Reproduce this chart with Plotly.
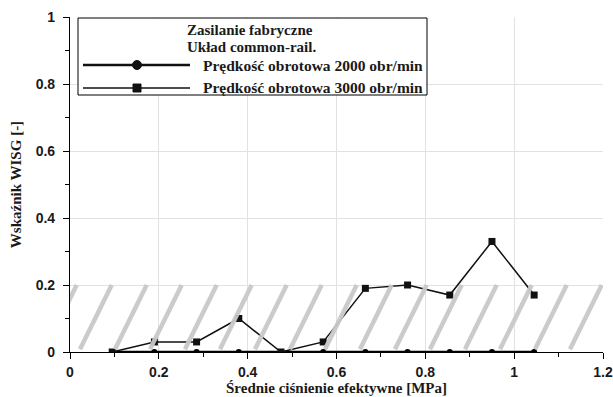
import plotly.graph_objects as go

# Data
pressure = [0.095, 0.19, 0.285, 0.38, 0.475, 0.57, 0.665, 0.76, 0.855, 0.95, 1.045]
wisg_2000 = [0, 0, 0, 0, 0, 0, 0, 0, 0, 0, 0]
wisg_3000 = [0, 0.03, 0.03, 0.10, 0, 0.03, 0.19, 0.20, 0.17, 0.33, 0.17]
band_low, band_high = 0.0, 0.2
x_ticks = [0, 0.2, 0.4, 0.6, 0.8, 1, 1.2]
x_labels = ["0", "0.2", "0.4", "0.6", "0.8", "1", "1.2"]
y_ticks = [0, 0.2, 0.4, 0.6, 0.8, 1]
y_labels = ["0", "0.2", "0.4", "0.6", "0.8", "1"]
legend_title = ["Zasilanie fabryczne", "Układ common-rail."]
series_names = ["Prędkość obrotowa 2000 obr/min", "Prędkość obrotowa 3000 obr/min"]

W, H = 613, 397
ML, MR, MT, MB = 70, 10, 17, 45
PW, PH = W - ML - MR, H - MT - MB


def px(xp):
    return (xp - ML) / PW


def py(yp):
    return (H - MB - yp) / PH


fig = go.Figure()

fig.add_trace(go.Scatter(
    x=pressure, y=wisg_2000, mode="lines+markers", name=series_names[0],
    line=dict(color="black", width=2.5),
    marker=dict(symbol="circle", size=6, color="black"), showlegend=False,
))
fig.add_trace(go.Scatter(
    x=pressure, y=wisg_3000, mode="lines+markers", name=series_names[1],
    line=dict(color="#111", width=1.5),
    marker=dict(symbol="square", size=7, color="#111"), showlegend=False,
))

# Hatched band (diagonal stripes) between band_low and band_high
period = 0.0788
slant = 0.0743
phase = 0.0225
hx, hy = [], []
y0 = band_low + 0.008
k = -3
while phase + k * period < 1.3:
    xb = phase + k * period
    hx += [xb, xb + slant * (band_high - y0) / (band_high - band_low), None]
    hy += [y0, band_high, None]
    k += 1
fig.add_trace(go.Scatter(
    x=hx, y=hy, mode="lines", showlegend=False, hoverinfo="skip",
    line=dict(color="rgba(200,200,200,0.95)", width=4.5),
))

# Custom legend box
shapes = [dict(type="rect", xref="paper", yref="paper",
               x0=px(78), x1=px(427), y0=py(95), y1=py(18),
               line=dict(color="black", width=1), fillcolor="white", layer="above")]
annotations = []
legend_font = dict(family="Liberation Serif", size=15.5, color="#1a1a1a", weight="bold")
title_font = dict(family="Liberation Serif", size=15, color="#1a1a1a", weight="bold")
for i, t in enumerate(legend_title):
    annotations.append(dict(text=t, xref="paper", yref="paper", x=px(185), y=py(30 + 17 * i),
                            xanchor="left", yanchor="middle", showarrow=False, font=title_font))
item_y = [65, 88]
line_w = [2.5, 1.5]
for i, name in enumerate(series_names):
    yy = py(item_y[i])
    shapes.append(dict(type="line", xref="paper", yref="paper", x0=px(83), x1=px(190), y0=yy, y1=yy,
                       line=dict(color="#111", width=line_w[i]), layer="above"))
    annotations.append(dict(text=name, xref="paper", yref="paper", x=px(201), y=yy,
                            xanchor="left", yanchor="middle", showarrow=False, font=legend_font))
shapes.append(dict(type="circle", xref="paper", yref="paper", xsizemode="pixel", ysizemode="pixel",
                   xanchor=px(137), yanchor=py(item_y[0]), x0=-4.5, x1=4.5, y0=-4.5, y1=4.5,
                   fillcolor="#111", line=dict(color="#111", width=1), layer="above"))
shapes.append(dict(type="rect", xref="paper", yref="paper", xsizemode="pixel", ysizemode="pixel",
                   xanchor=px(137), yanchor=py(item_y[1]), x0=-4, x1=4, y0=-4, y1=4,
                   fillcolor="#111", line=dict(color="#111", width=1), layer="above"))

tick_font = dict(family="Liberation Sans", size=14, color="#1a1a1a", weight="bold")
axis_title_font = dict(family="Liberation Serif", size=15, color="#1a1a1a", weight="bold")

fig.update_layout(
    width=W, height=H,
    margin=dict(l=ML, r=MR, t=MT, b=MB),
    paper_bgcolor="white", plot_bgcolor="white",
    showlegend=False,
    shapes=shapes, annotations=annotations,
    xaxis=dict(
        range=[0, 1.2], tickvals=x_ticks, ticktext=x_labels, automargin=False,
        ticklabeloverflow="allow",
        showgrid=True, gridcolor="#e2e2e2", gridwidth=1,
        showline=True, linecolor="black", linewidth=1.2,
        ticks="outside", ticklen=6, tickcolor="black", ticklabelstandoff=1,
        minor=dict(dtick=0.1, ticks="outside", ticklen=4, tickcolor="black", showgrid=False),
        tickfont=tick_font,
        title=dict(text="<b>Średnie ciśnienie efektywne [MPa]</b>", font=axis_title_font, standoff=2),
        zeroline=False,
    ),
    yaxis=dict(
        range=[0, 1], tickvals=y_ticks, ticktext=y_labels, automargin=False,
        ticklabeloverflow="allow",
        showgrid=True, gridcolor="#e2e2e2", gridwidth=1,
        showline=True, linecolor="black", linewidth=1.2,
        ticks="outside", ticklen=6, tickcolor="black", ticklabelstandoff=5,
        minor=dict(dtick=0.1, ticks="outside", ticklen=4, tickcolor="black", showgrid=False),
        tickfont=tick_font,
        title=dict(text="<b>Wskaźnik WISG [-]</b>", font=axis_title_font, standoff=10),
        zeroline=False,
    ),
)

fig.write_html("out.html")
